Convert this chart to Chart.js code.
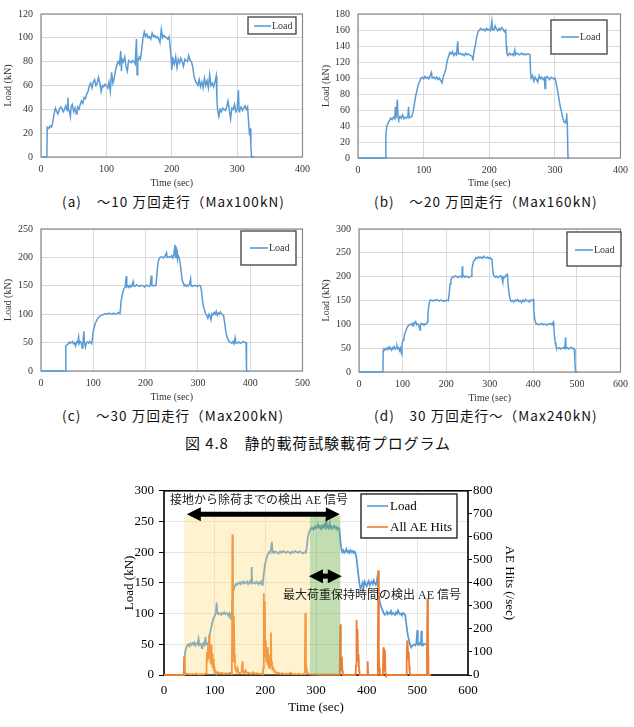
<!DOCTYPE html>
<html><head><meta charset="utf-8">
<script src="https://cdn.jsdelivr.net/npm/chart.js@4/dist/chart.umd.min.js"></script>
<style>
body{margin:0;background:#fff;width:634px;height:727px;position:relative;overflow:hidden}
canvas{position:absolute}
.cap{position:absolute;font-family:"Noto Sans CJK JP";font-size:13.5px;letter-spacing:1.1px;white-space:nowrap;color:#111;line-height:18px}
.note{position:absolute;font-family:"Liberation Serif","Noto Sans CJK JP";font-size:12px;white-space:nowrap;color:#222;line-height:14px}
</style></head><body>
<canvas id="ca" width="316" height="190" style="left:0;top:0"></canvas>
<canvas id="cb" width="318" height="190" style="left:316px;top:0"></canvas>
<canvas id="cc" width="316" height="190" style="left:0;top:215px"></canvas>
<canvas id="cd" width="318" height="190" style="left:316px;top:215px"></canvas>
<canvas id="ce" width="440" height="249" style="left:100px;top:478px"></canvas>
<div class="cap" style="left:62px;top:192px">(a)　～10 万回走行（Max100kN)</div>
<div class="cap" style="left:374px;top:192px">(b)　～20 万回走行（Max160kN)</div>
<div class="cap" style="left:62px;top:406px">(c)　～30 万回走行（Max200kN)</div>
<div class="cap" style="left:374px;top:406px">(d)　30 万回走行～（Max240kN)</div>
<div class="cap" style="left:185px;top:434px;font-size:15px;letter-spacing:0.9px">図 4.8　静的載荷試験載荷プログラム</div>
<div class="note" style="left:170px;top:493px">接地から除荷までの検出 AE 信号</div>
<div class="note" style="left:283px;top:588px">最大荷重保持時間の検出 AE 信号</div>
<script>
// ---------- DATA ----------
const xTicksA = [0,100,200,300,400];
const xTicksC = [0,100,200,300,400,500];
const xTicksD = [0,100,200,300,400,500,600];
const yTicksA = [0,20,40,60,80,100,120];
const yTicksB = [0,20,40,60,80,100,120,140,160,180];
const yTicksC = [0,50,100,150,200,250];
const yTicksD = [0,50,100,150,200,250,300];
const aeTicks = [0,100,200,300,400,500,600,700,800];

// [time (sec), load (kN)]
const loadA = [[0,0],[9,0],[9.5,25],[12,24],[14,26],[16,25],[18,29],[19,33],[20,36],[22,41],[24,38],[26,36],[28,40],[30,42],[32,41],[34,38],[36,40],[38,43],[40,39],[41,50],[42,40],[44,37],[45,34],[46,42],[48,44],[50,38],[52,41],[54,36],[55,37],[56,42],[58,40],[60,44],[62,47],[64,45],[66,50],[68,49],[70,53],[72,55],[74,60],[76,62],[78,58],[80,63],[82,65],[84,60],[86,62],[88,67],[90,62],[92,55],[94,60],[96,59],[98,61],[100,60],[102,58],[104,63],[106,55],[108,71],[110,62],[112,66],[114,73],[116,77],[118,80],[120,78],[122,89],[123,72],[124,82],[126,80],[128,84],[130,76],[132,72],[134,81],[136,80],[138,79],[140,81],[142,80],[144,78],[146,99],[147,69],[148,80],[150,84],[152,82],[154,90],[156,100],[158,105],[160,101],[162,103],[164,100],[166,101],[168,99],[170,104],[172,101],[174,102],[176,100],[178,101],[180,99],[182,96],[184,107],[186,100],[188,102],[190,101],[192,100],[194,99],[196,101],[198,90],[199,84],[200,73],[202,82],[204,78],[206,84],[208,75],[210,82],[212,79],[214,83],[216,80],[218,76],[220,82],[222,81],[224,80],[226,85],[228,81],[230,80],[232,76],[234,68],[236,64],[238,62],[240,60],[242,65],[244,59],[246,63],[248,58],[250,66],[252,60],[254,64],[256,58],[258,69],[260,60],[262,62],[264,59],[266,63],[268,68],[269,50],[270,40],[272,34],[274,40],[276,38],[278,41],[280,40],[282,39],[284,42],[286,47],[288,40],[290,32],[292,41],[294,40],[296,44],[298,38],[300,40],[302,56],[303,38],[304,40],[306,42],[308,39],[310,41],[312,43],[314,40],[316,42],[318,26],[319,18],[320,24],[321,10],[322,0],[326,0]];

const loadB = [[0,0],[42,0],[42.5,30],[44,40],[46,44],[48,47],[50,50],[52,48],[54,51],[56,49],[57,64],[58,50],[60,73],[61,50],[62,48],[64,52],[66,50],[68,54],[70,49],[72,51],[74,50],[76,52],[77,64],[78,50],[80,51],[82,52],[84,58],[86,68],[88,78],[90,85],[92,92],[94,96],[96,100],[98,101],[100,99],[102,102],[104,100],[106,101],[108,99],[110,103],[112,107],[113,100],[116,101],[118,99],[120,101],[122,98],[124,100],[126,97],[128,94],[130,102],[132,106],[134,112],[136,122],[138,127],[140,132],[142,130],[144,133],[146,128],[148,131],[150,129],[152,146],[153,130],[156,131],[158,129],[160,130],[162,128],[164,131],[166,129],[168,130],[170,129],[172,128],[174,127],[175,122],[177,134],[179,142],[181,152],[183,158],[185,160],[187,162],[190,160],[192,161],[194,159],[196,162],[198,160],[200,161],[202,159],[204,171],[205,161],[207,160],[209,165],[211,161],[213,159],[215,162],[217,160],[219,163],[221,161],[223,158],[225,160],[226,140],[227,130],[229,128],[231,131],[233,129],[235,130],[237,128],[239,135],[240,129],[242,131],[244,130],[246,129],[248,130],[250,131],[252,129],[254,130],[256,129],[258,130],[260,130],[262,129],[263,107],[264,100],[266,103],[268,96],[270,101],[272,98],[274,95],[276,103],[278,99],[280,101],[282,98],[284,100],[285,87],[286,100],[288,102],[290,100],[292,98],[294,101],[296,100],[298,99],[300,100],[302,94],[304,85],[306,75],[308,65],[310,58],[312,50],[314,45],[316,44],[317,48],[318,56],[318.5,46],[319,40],[320,0],[322,0]];

const loadC = [[0,0],[47,0],[47.5,45],[50,46],[52,48],[54,51],[56,49],[58,50],[60,52],[62,48],[64,50],[66,44],[68,51],[70,50],[72,60],[73,48],[75,52],[77,50],[79,40],[80,48],[82,70],[83,50],[85,42],[87,50],[89,51],[91,49],[93,52],[95,50],[97,48],[98,55],[100,70],[102,78],[104,84],[106,88],[108,92],[110,94],[112,96],[115,98],[118,99],[121,100],[124,101],[127,100],[130,102],[133,101],[136,100],[139,102],[142,100],[145,101],[148,103],[151,101],[152,110],[153,122],[155,132],[157,140],[159,146],[161,148],[163,167],[164,148],[166,150],[168,147],[170,151],[172,148],[174,150],[176,157],[177,150],[180,149],[183,152],[186,150],[189,149],[192,151],[195,150],[198,148],[201,151],[204,150],[207,149],[209,152],[211,168],[212,150],[214,150],[216,151],[218,150],[220,152],[222,175],[224,192],[226,198],[228,200],[231,201],[234,199],[237,202],[240,208],[241,200],[244,201],[247,200],[250,203],[252,199],[254,205],[256,222],[257,200],[258,220],[259,205],[260,215],[261,198],[262,204],[264,200],[266,190],[268,175],[270,160],[272,155],[274,150],[276,152],[278,149],[280,151],[282,150],[284,153],[286,162],[287,150],[290,149],[293,151],[296,150],[299,149],[302,151],[305,150],[307,140],[309,122],[311,112],[313,106],[315,100],[317,98],[319,93],[321,100],[323,97],[325,90],[327,101],[329,99],[331,103],[333,100],[335,105],[337,98],[339,102],[341,100],[343,104],[345,101],[347,99],[349,98],[351,86],[353,72],[355,62],[357,57],[359,53],[361,51],[363,50],[365,49],[367,52],[369,48],[371,58],[372,50],[375,49],[378,51],[381,49],[384,50],[387,52],[390,50],[392,50],[393,0],[397,0]];

const loadD = [[0,0],[55,0],[55.5,45],[57,48],[59,46],[61,49],[63,50],[65,47],[67,51],[69,48],[71,52],[73,50],[75,46],[77,51],[79,49],[81,53],[83,48],[85,50],[87,55],[89,49],[91,51],[93,45],[95,50],[97,40],[98,38],[99,60],[101,67],[103,72],[105,80],[108,88],[111,94],[114,98],[117,100],[120,101],[122,98],[124,102],[126,100],[128,104],[130,106],[132,99],[134,101],[136,100],[138,95],[140,88],[141,100],[143,102],[145,100],[147,101],[149,99],[151,101],[153,100],[155,102],[157,105],[158,120],[160,138],[162,148],[164,151],[167,150],[170,149],[173,151],[176,150],[179,152],[182,150],[185,149],[188,151],[191,150],[194,148],[197,150],[200,149],[203,151],[205,150],[207,165],[209,185],[211,193],[213,197],[215,200],[218,199],[221,202],[224,200],[227,198],[230,201],[233,200],[236,199],[237,222],[238,200],[240,202],[243,199],[246,201],[249,200],[252,198],[255,200],[257,201],[259,215],[261,225],[263,232],[266,236],[268,240],[271,238],[274,242],[277,239],[280,241],[283,238],[286,243],[289,240],[292,239],[295,241],[298,238],[301,240],[303,237],[305,238],[306,225],[308,205],[310,202],[313,199],[316,201],[319,198],[322,200],[325,202],[328,197],[330,188],[331,200],[334,198],[337,203],[340,205],[341,198],[343,175],[345,160],[347,152],[349,148],[352,150],[355,147],[358,151],[361,149],[364,152],[367,148],[370,150],[373,146],[376,151],[379,148],[382,152],[385,149],[388,150],[391,147],[394,151],[397,150],[400,152],[401,130],[403,112],[405,105],[407,100],[410,101],[413,99],[416,100],[419,102],[422,99],[425,101],[428,100],[431,98],[434,101],[437,100],[440,102],[443,99],[446,105],[447,97],[448,80],[450,62],[452,54],[454,50],[457,49],[460,51],[463,48],[466,50],[469,51],[472,49],[474,73],[475,50],[478,51],[481,48],[484,50],[487,52],[490,49],[492,50],[494,48],[495.5,20],[497,0],[502,0]];

const loadE = [[0,0],[40,0],[40.5,30],[42,38],[44,45],[46,48],[48,50],[50,47],[52,51],[54,49],[56,52],[58,50],[60,53],[62,48],[64,51],[66,50],[68,58],[69,49],[71,51],[73,50],[75,44],[76,50],[78,52],[80,49],[82,62],[83,50],[85,51],[87,49],[88,52],[90,65],[92,72],[94,80],[96,88],[98,93],[100,96],[102,100],[104,118],[105,102],[107,99],[109,101],[111,100],[113,98],[115,101],[117,100],[119,102],[121,99],[123,100],[125,101],[127,97],[129,100],[131,92],[132,100],[134,101],[135,120],[136,135],[138,140],[140,145],[142,148],[144,147],[146,150],[148,149],[150,151],[152,148],[154,150],[156,152],[158,149],[160,151],[162,150],[164,152],[166,148],[168,150],[170,153],[172,149],[173,176],[174,150],[176,151],[178,150],[180,149],[182,152],[184,150],[186,148],[188,151],[190,149],[192,152],[194,147],[195,150],[197,165],[199,178],[201,186],[203,192],[205,196],[207,200],[209,199],[211,205],[213,217],[214,200],[216,202],[218,199],[220,201],[223,200],[226,198],[229,201],[232,199],[235,202],[238,200],[241,199],[244,201],[247,200],[250,198],[253,201],[256,199],[259,202],[262,200],[265,199],[268,201],[271,200],[274,198],[277,200],[280,199],[282,210],[284,225],[286,232],[288,236],[290,238],[292,240],[295,237],[298,242],[300,239],[302,241],[304,245],[306,240],[308,242],[310,238],[312,243],[314,240],[316,244],[318,241],[320,255],[321,240],[323,242],[325,239],[327,247],[328,240],[330,242],[332,238],[334,241],[336,243],[338,239],[340,241],[342,237],[344,240],[346,238],[348,220],[350,205],[352,200],[354,203],[356,199],[358,201],[360,205],[362,200],[364,202],[366,199],[368,203],[370,200],[372,202],[374,199],[376,201],[378,198],[380,190],[382,175],[384,160],[386,148],[388,140],[390,145],[392,150],[394,143],[396,152],[398,148],[400,145],[402,150],[404,153],[406,146],[408,150],[410,152],[412,148],[414,154],[416,150],[418,147],[420,152],[421,158],[422,150],[424,130],[426,118],[428,112],[430,108],[432,104],[434,100],[436,98],[438,100],[440,103],[442,99],[444,101],[446,100],[448,104],[450,99],[452,101],[454,100],[456,98],[458,102],[460,100],[462,105],[464,101],[466,99],[468,100],[470,97],[472,101],[474,100],[476,98],[478,85],[480,72],[482,62],[484,55],[486,48],[488,45],[490,48],[492,49],[494,50],[496,48],[498,51],[500,73],[501,50],[503,49],[505,52],[507,50],[508,72],[509,50],[511,48],[513,51],[515,50],[518,50]];

// [time (sec), AE hits (/sec)]
const aeHits = [[0,0],[39,0],[40,80],[41,25],[42,8],[44,3],[48,6],[52,2],[56,5],[60,3],[64,6],[68,2],[72,4],[76,3],[80,5],[83,8],[84,40],[85,100],[86,60],[87,130],[88,95],[89,175],[90,70],[91,135],[92,50],[93,130],[94,45],[95,95],[96,30],[97,70],[98,20],[99,35],[100,10],[102,15],[104,5],[106,12],[110,6],[114,10],[118,4],[122,8],[126,5],[130,10],[133,4],[134,20],[135,610],[136,150],[137,60],[138,255],[139,90],[140,40],[141,25],[143,15],[145,30],[147,10],[150,8],[153,12],[155,60],[156,15],[158,8],[161,20],[164,5],[168,10],[172,4],[176,12],[180,5],[184,8],[188,4],[192,6],[195,3],[196,30],[197,355],[198,130],[199,320],[200,80],[201,150],[202,60],[203,110],[204,50],[205,120],[206,40],[207,90],[208,30],[209,80],[210,40],[211,185],[212,50],[213,60],[214,25],[216,30],[218,12],[220,15],[223,6],[226,10],[230,4],[234,8],[238,3],[242,6],[246,4],[250,10],[254,3],[258,5],[262,3],[266,6],[270,2],[274,5],[277,3],[278,30],[279,270],[280,60],[281,30],[282,12],[284,8],[286,4],[290,3],[295,2],[300,3],[305,1],[310,2],[315,1],[320,2],[325,1],[330,2],[335,1],[340,2],[346,1],[347,20],[348,220],[349,40],[350,20],[351,80],[352,20],[353,0],[378,0],[379,40],[380,240],[381,120],[382,200],[383,60],[384,90],[385,20],[386,0],[401,0],[402,60],[403,0],[421,0],[422,60],[423,455],[424,80],[425,30],[426,10],[427,0],[432,0],[433,120],[434,30],[435,20],[436,110],[437,10],[438,0],[478,0],[479,60],[480,150],[481,130],[482,70],[483,100],[484,40],[485,10],[486,0],[518,0],[519,100],[520,330],[521,200],[522,0],[527,0]];

// highlighted time ranges (sec) and arrow ranges (sec, kN)
const groundToUnloadRange = [40, 288];
const maxHoldRange = [288, 348];
const shadeTopLoad = 259;
const arrowAll = [45, 347, 262];
const arrowMax = [286, 351, 161];

// ---------- RENDERING ----------
const BLUE = '#5B9BD5', ORANGE = '#ED7D31';
const SERIF = 'Liberation Serif';
const toPts = arr => arr.map(p => ({x: p[0], y: p[1]}));

const decor = {
  id: 'decor',
  beforeDatasetsDraw(chart, args, o) {
    const ctx = chart.ctx, ca = chart.chartArea;
    ctx.save();
    ctx.strokeStyle = o.frameColor; ctx.lineWidth = o.frameWidth;
    ctx.strokeRect(ca.left, ca.top, ca.right - ca.left, ca.bottom - ca.top);
    ctx.restore();
  },
  afterDatasetsDraw(chart, args, o) {
    const ctx = chart.ctx, xs = chart.scales.x, ys = chart.scales.y;
    ctx.save();
    (o.shades || []).forEach(s => {
      const x1 = xs.getPixelForValue(s.range[0]), x2 = xs.getPixelForValue(s.range[1]);
      const yt = ys.getPixelForValue(s.top), yb = ys.getPixelForValue(0);
      ctx.fillStyle = s.color; ctx.fillRect(x1, yt, x2 - x1, yb - yt);
    });
    (o.arrows || []).forEach(a => {
      const x1 = xs.getPixelForValue(a[0]), x2 = xs.getPixelForValue(a[1]), y = ys.getPixelForValue(a[2]);
      const hl = 14, hw = 7;
      ctx.fillStyle = '#000'; ctx.strokeStyle = '#000'; ctx.lineWidth = 5;
      ctx.beginPath(); ctx.moveTo(x1 + hl - 2, y); ctx.lineTo(x2 - hl + 2, y); ctx.stroke();
      ctx.beginPath(); ctx.moveTo(x1, y); ctx.lineTo(x1 + hl, y - hw); ctx.lineTo(x1 + hl, y + hw); ctx.closePath(); ctx.fill();
      ctx.beginPath(); ctx.moveTo(x2, y); ctx.lineTo(x2 - hl, y - hw); ctx.lineTo(x2 - hl, y + hw); ctx.closePath(); ctx.fill();
    });
    const lg = o.legend;
    if (lg) {
      ctx.fillStyle = '#fff';
      ctx.fillRect(lg.box[0], lg.box[1], lg.box[2] - lg.box[0], lg.box[3] - lg.box[1]);
      ctx.strokeStyle = lg.border; ctx.lineWidth = lg.borderWidth;
      ctx.strokeRect(lg.box[0], lg.box[1], lg.box[2] - lg.box[0], lg.box[3] - lg.box[1]);
      ctx.font = lg.font; ctx.textBaseline = 'middle'; ctx.textAlign = 'left';
      lg.rows.forEach((ry, i) => {
        const ds = chart.data.datasets[lg.order[i]];
        ctx.strokeStyle = ds.borderColor; ctx.lineWidth = 1.6;
        ctx.beginPath(); ctx.moveTo(lg.line[0], ry); ctx.lineTo(lg.line[1], ry); ctx.stroke();
        ctx.fillStyle = lg.textColor; ctx.fillText(ds.label, lg.textX, ry + 0.5);
      });
    }
    ctx.restore();
  }
};

function smallChart(id, data, xTicks, yTicks, lay, legend) {
  const xmax = xTicks[xTicks.length - 1], ymax = yTicks[yTicks.length - 1];
  const font = {family: SERIF, size: 10};
  return new Chart(document.getElementById(id), {
    type: 'line',
    data: {datasets: [{label: 'Load', data: toPts(data), borderColor: BLUE, borderWidth: 1.5,
      pointRadius: 0, tension: 0, fill: false, clip: 3}]},
    options: {
      responsive: false, animation: false, devicePixelRatio: 1,
      layout: {padding: {left: 0, top: lay.top, right: lay.right, bottom: 0}},
      plugins: {legend: {display: false}, tooltip: {enabled: false},
        decor: {frameColor: '#8a8a8a', frameWidth: 1.2, legend: legend}},
      scales: {
        x: {type: 'linear', min: 0, max: xmax,
          afterBuildTicks: s => { s.ticks = xTicks.map(v => ({value: v})); },
          afterFit: s => { s.height = lay.xh; },
          grid: {color: '#d9d9d9', drawTicks: false}, border: {display: false},
          ticks: {font, color: '#333', padding: 6, maxRotation: 0},
          title: {display: true, text: 'Time (sec)', font, color: '#333', padding: {top: 0, bottom: lay.xtp}}},
        y: {type: 'linear', min: 0, max: ymax,
          afterBuildTicks: s => { s.ticks = yTicks.map(v => ({value: v})); },
          afterFit: s => { s.width = lay.yw; },
          grid: {color: '#d9d9d9', drawTicks: false}, border: {display: false},
          ticks: {font, color: '#333', padding: 8},
          title: {display: true, text: 'Load (kN)', font, color: '#333', padding: {top: lay.ytp, bottom: 0}}}
      }
    },
    plugins: [decor]
  });
}

const lgFont = '10px "Liberation Serif"';
smallChart('ca', loadA, xTicksA, yTicksA, {top: 11, right: 13, xh: 33, yw: 41, xtp: 1, ytp: 2.5},
  {box: [248, 17, 296, 34], line: [254, 271], textX: 272, rows: [26], order: [0], font: lgFont, border: '#404040', borderWidth: 1.3, textColor: '#333'});
smallChart('cb', loadB, xTicksA, yTicksB, {top: 12, right: 12, xh: 32, yw: 42, xtp: 1, ytp: 4.5},
  {box: [235, 20, 291, 54], line: [245, 263], textX: 264, rows: [37], order: [0], font: lgFont, border: '#404040', borderWidth: 1.3, textColor: '#333'});
smallChart('cc', loadC, xTicksC, yTicksC, {top: 10, right: 13, xh: 34, yw: 41, xtp: 2, ytp: 2},
  {box: [241, 16, 296, 50], line: [250, 268], textX: 269, rows: [33], order: [0], font: lgFont, border: '#404040', borderWidth: 1.3, textColor: '#333'});
smallChart('cd', loadD, xTicksD, yTicksD, {top: 12, right: 12, xh: 33, yw: 43, xtp: 1, ytp: 4},
  {box: [251, 17, 305, 51], line: [259, 277], textX: 278, rows: [35], order: [0], font: lgFont, border: '#404040', borderWidth: 1.3, textColor: '#333'});

// main chart
(function () {
  const font = {family: SERIF, size: 13};
  new Chart(document.getElementById('ce'), {
    type: 'line',
    data: {datasets: [
      {label: 'Load', data: toPts(loadE), borderColor: BLUE, borderWidth: 1.8, pointRadius: 0, tension: 0, yAxisID: 'y', order: 1, clip: 3},
      {label: 'All AE Hits', data: toPts(aeHits), borderColor: ORANGE, borderWidth: 1.8, pointRadius: 0, tension: 0, yAxisID: 'y1', order: 0, clip: 3}
    ]},
    options: {
      responsive: false, animation: false, devicePixelRatio: 1,
      layout: {padding: {left: 0, top: 12, right: 12, bottom: 0}},
      plugins: {legend: {display: false}, tooltip: {enabled: false},
        decor: {frameColor: '#000', frameWidth: 1.6,
          shades: [
            {range: groundToUnloadRange, top: shadeTopLoad, color: 'rgba(255,214,102,0.32)'},
            {range: maxHoldRange, top: shadeTopLoad, color: 'rgba(112,173,71,0.42)'}
          ],
          arrows: [arrowAll, arrowMax],
          legend: {box: [261, 16, 357, 60], line: [267, 288], textX: 290, rows: [28, 49], order: [0, 1],
            font: '13px "Liberation Serif"', border: '#000', borderWidth: 1.2, textColor: '#000'}}},
      scales: {
        x: {type: 'linear', min: 0, max: 600,
          afterBuildTicks: s => { s.ticks = xTicksD.map(v => ({value: v})); },
          afterFit: s => { s.height = 52; },
          grid: {color: '#e6e6e6', drawTicks: false}, border: {display: false},
          ticks: {font, color: '#000', padding: 8, maxRotation: 0},
          title: {display: true, text: 'Time (sec)', font, color: '#000', padding: {top: 0, bottom: 12}}},
        y: {type: 'linear', position: 'left', min: 0, max: 300,
          afterBuildTicks: s => { s.ticks = yTicksD.map(v => ({value: v})); },
          afterFit: s => { s.width = 64; },
          grid: {color: '#e6e6e6', drawTicks: true, tickLength: 5, tickColor: '#000'}, border: {display: false},
          ticks: {font, color: '#000', padding: 5},
          title: {display: true, text: 'Load (kN)', font, color: '#000', padding: {top: 22, bottom: 0}}},
        y1: {type: 'linear', position: 'right', min: 0, max: 800,
          afterBuildTicks: s => { s.ticks = aeTicks.map(v => ({value: v})); },
          afterFit: s => { s.width = 60; },
          grid: {drawOnChartArea: false, drawTicks: true, tickLength: 4, tickColor: '#000'}, border: {display: false},
          ticks: {font, color: '#000', padding: 1},
          title: {display: true, text: 'AE Hits (/sec)', font, color: '#000', padding: {top: 11, bottom: 0}}}
      }
    },
    plugins: [decor]
  });
})();
</script>
</body></html>
